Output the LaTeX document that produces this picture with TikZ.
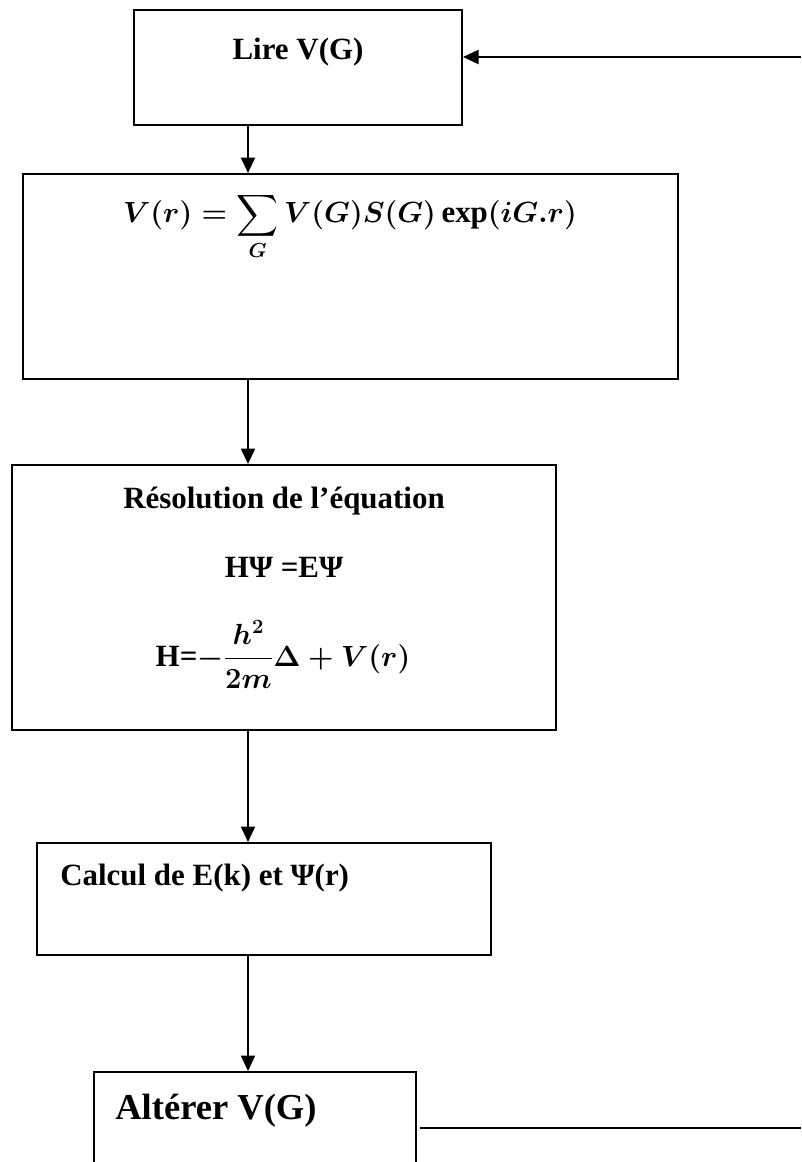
\documentclass[tikz,border=0pt]{standalone}
\usepackage{fontspec}
\setmainfont{Liberation Serif}
\usepackage{amsmath}
\usetikzlibrary{arrows.meta,positioning}

\begin{document}
\begin{tikzpicture}[
    x=0.025cm, y=-0.025cm,
    box/.style={draw, line width=1.4pt, inner sep=0pt},
    lbl/.style={font=\fontsize{22}{26}\selectfont\bfseries, inner sep=0pt},
    eqn/.style={font=\fontsize{22}{26}\selectfont\bfseries\boldmath, inner sep=0pt},
    arr/.style={line width=1.4pt, -{Triangle[length=11pt,width=10pt]}}
  ]
  \useasboundingbox (0,0) rectangle (801,1162);
  % Boxes of the loop
  \node[box, minimum width=8.2cm, minimum height=2.875cm] (lire) at (298,67.5) {};
  \node[box, minimum width=16.375cm, minimum height=5.125cm] (pot) at (350.5,276.5) {};
  \node[box, minimum width=13.6cm, minimum height=6.625cm] (resol) at (284,597.5) {};
  \node[box, minimum width=11.35cm, minimum height=2.8cm] (calc) at (264,899) {};
  \node[box, minimum width=8.05cm, minimum height=3.2cm] (alter) at (255,1136) {};
  % Texts
  \node[lbl, anchor=base] (lireT) at (298,60) {Lire V(G)};
  \node[eqn, anchor=base] (potT) at (350,223)
    {$V(r) = \displaystyle\sum_{G} V(G)S(G)\exp(iG.r)$};
  \node[lbl, anchor=base] (resolT) at (284,508) {Résolution de l’équation};
  \node[lbl, anchor=base] (schrT) at (284,577) {HΨ =EΨ};
  \node[eqn, anchor=base] (hamT) at (283,666)
    {H=$-\dfrac{h^2}{2m}\Delta+V(r)$};
  \node[lbl, anchor=base west] (calcT) at (60,885) {Calcul de E(k) et Ψ(r)};
  \node[lbl, anchor=base west, font=\fontsize{26}{30}\selectfont\bfseries] (alterT) at (115,1119) {Altérer V(G)};
  % Connectors
  \coordinate (col) at (248,0);
  \coordinate (back) at (801,57);
  \coordinate (out) at (801,1128);
  \draw[arr] (lire.south -| col) -- (pot.north -| col);
  \draw[arr] (pot.south -| col) -- (resol.north -| col);
  \draw[arr] (resol.south -| col) -- (calc.north -| col);
  \draw[arr] (calc.south -| col) -- (alter.north -| col);
  \draw[arr] (back) -- (lire.east |- back);
  \draw[line width=1.4pt] ([xshift=2pt]alter.east |- out) -- (out);
\end{tikzpicture}
\end{document}
